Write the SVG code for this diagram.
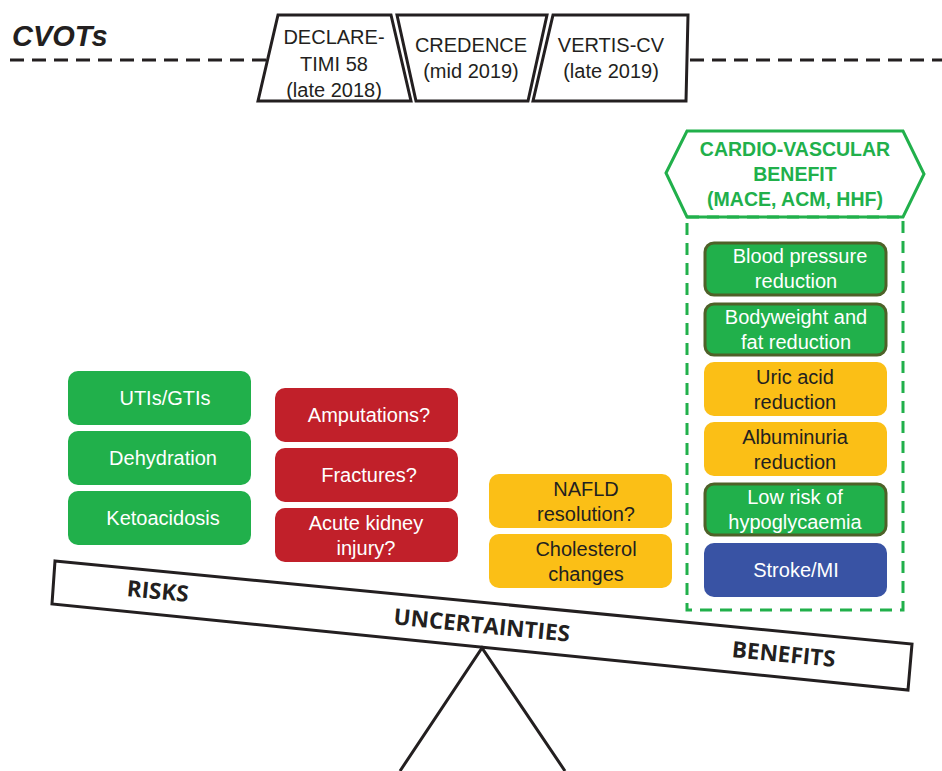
<svg xmlns="http://www.w3.org/2000/svg" width="942" height="771" viewBox="0 0 942 771">
<style>
.t{font-family:"Liberation Sans",Arial,sans-serif;font-size:20px;text-anchor:middle}
.w{fill:#ffffff}
.d{fill:#231F20}
.g{fill:#21B04B}
.gb{fill:#21B04B;stroke:#4E6128;stroke-width:3}
.r{fill:#C1202A}
.y{fill:#FBBF16}
.b{fill:#3953A4}
.trap{fill:#ffffff;stroke:#231F20;stroke-width:3;stroke-linejoin:miter}
.beamt{font-family:"Open Sans","DejaVu Sans",sans-serif;font-weight:bold;font-size:22.5px;fill:#231F20;text-anchor:middle}
</style>
<rect width="942" height="771" fill="#ffffff"/>
<g id="cvot-line">
<line x1="10" y1="60" x2="270" y2="60" stroke="#231F20" stroke-width="3" stroke-dasharray="14 8"/>
<line x1="690" y1="60" x2="942" y2="60" stroke="#231F20" stroke-width="3" stroke-dasharray="14 8"/>
<text x="12" y="46" font-family="Liberation Sans,Arial,sans-serif" font-size="29" font-weight="bold" font-style="italic" fill="#231F20">CVOTs</text>
</g>
<g id="declare">
<polygon class="trap" points="278,15 391,15 411,101 258,101"/>
<text class="t d" x="334" y="44">DECLARE-</text>
<text class="t d" x="334" y="71">TIMI 58</text>
<text class="t d" x="334" y="97">(late 2018)</text>
</g>
<g id="credence">
<polygon class="trap" points="397,15 547,15 528,101 416,101"/>
<text class="t d" x="471" y="52">CREDENCE</text>
<text class="t d" x="471" y="78">(mid 2019)</text>
</g>
<g id="vertis">
<polygon class="trap" points="553,15 688,15 686,101 533,101"/>
<text class="t d" x="611" y="52">VERTIS-CV</text>
<text class="t d" x="611" y="78">(late 2019)</text>
</g>
<g id="cv-benefit">
<polygon points="666,173 687,131 903,131 924,174 903,217 687,217" fill="#ffffff" stroke="#21B04B" stroke-width="3"/>
<text x="795" y="156" font-family="Liberation Sans,Arial,sans-serif" font-size="19.5" font-weight="bold" fill="#21B04B" text-anchor="middle">CARDIO-VASCULAR</text>
<text x="795" y="181" font-family="Liberation Sans,Arial,sans-serif" font-size="19.5" font-weight="bold" fill="#21B04B" text-anchor="middle">BENEFIT</text>
<text x="795" y="206" font-family="Liberation Sans,Arial,sans-serif" font-size="19.5" font-weight="bold" fill="#21B04B" text-anchor="middle">(MACE, ACM, HHF)</text>
<rect x="687" y="217" width="216" height="393" fill="none" stroke="#21B04B" stroke-width="3" stroke-dasharray="12 8"/>
</g>
<g id="bp"><rect class="gb" x="705" y="243" width="181" height="52" rx="9"/><text class="t w" x="800" y="263">Blood pressure</text><text class="t w" x="796" y="288">reduction</text></g>
<g id="bw"><rect class="gb" x="705" y="304" width="181" height="51" rx="9"/><text class="t w" x="796" y="324">Bodyweight and</text><text class="t w" x="796" y="349">fat reduction</text></g>
<g id="uric"><rect class="y" x="704" y="362" width="183" height="54" rx="10"/><text class="t d" x="795" y="384">Uric acid</text><text class="t d" x="795" y="409">reduction</text></g>
<g id="albu"><rect class="y" x="704" y="422" width="183" height="54" rx="10"/><text class="t d" x="795" y="444">Albuminuria</text><text class="t d" x="795" y="469">reduction</text></g>
<g id="hypo"><rect class="gb" x="705" y="484" width="181" height="51" rx="9"/><text class="t w" x="795" y="504">Low risk of</text><text class="t w" x="795" y="529">hypoglycaemia</text></g>
<g id="stroke"><rect class="b" x="704" y="543" width="183" height="54" rx="10"/><text class="t w" x="796" y="577">Stroke/MI</text></g>
<g id="utis"><rect class="g" x="68" y="371" width="183" height="54" rx="10"/><text class="t w" x="165" y="405">UTIs/GTIs</text></g>
<g id="dehyd"><rect class="g" x="68" y="431" width="183" height="54" rx="10"/><text class="t w" x="163" y="465">Dehydration</text></g>
<g id="keto"><rect class="g" x="68" y="491" width="183" height="54" rx="10"/><text class="t w" x="163" y="525">Ketoacidosis</text></g>
<g id="amput"><rect class="r" x="275" y="388" width="183" height="54" rx="10"/><text class="t w" x="369" y="422">Amputations?</text></g>
<g id="fract"><rect class="r" x="275" y="448" width="183" height="54" rx="10"/><text class="t w" x="369" y="482">Fractures?</text></g>
<g id="aki"><rect class="r" x="275" y="508" width="183" height="54" rx="10"/><text class="t w" x="366" y="530">Acute kidney</text><text class="t w" x="366" y="555">injury?</text></g>
<g id="nafld"><rect class="y" x="489" y="474" width="183" height="54" rx="10"/><text class="t d" x="586" y="496">NAFLD</text><text class="t d" x="586" y="521">resolution?</text></g>
<g id="chol"><rect class="y" x="489" y="534" width="183" height="54" rx="10"/><text class="t d" x="586" y="556">Cholesterol</text><text class="t d" x="586" y="581">changes</text></g>
<g id="balance">
<polygon points="55,561 912,644 908,690 52,604" fill="#ffffff" stroke="#231F20" stroke-width="3" stroke-linejoin="miter"/>
<polyline points="400,771 482,648 565,771" fill="none" stroke="#231F20" stroke-width="3"/>
<text class="beamt" transform="translate(157,599) rotate(5.6)">RISKS</text>
<text class="beamt" transform="translate(481,633) rotate(5.6)">UNCERTAINTIES</text>
<text class="beamt" transform="translate(783,662) rotate(5.6)">BENEFITS</text>
</g>
</svg>
